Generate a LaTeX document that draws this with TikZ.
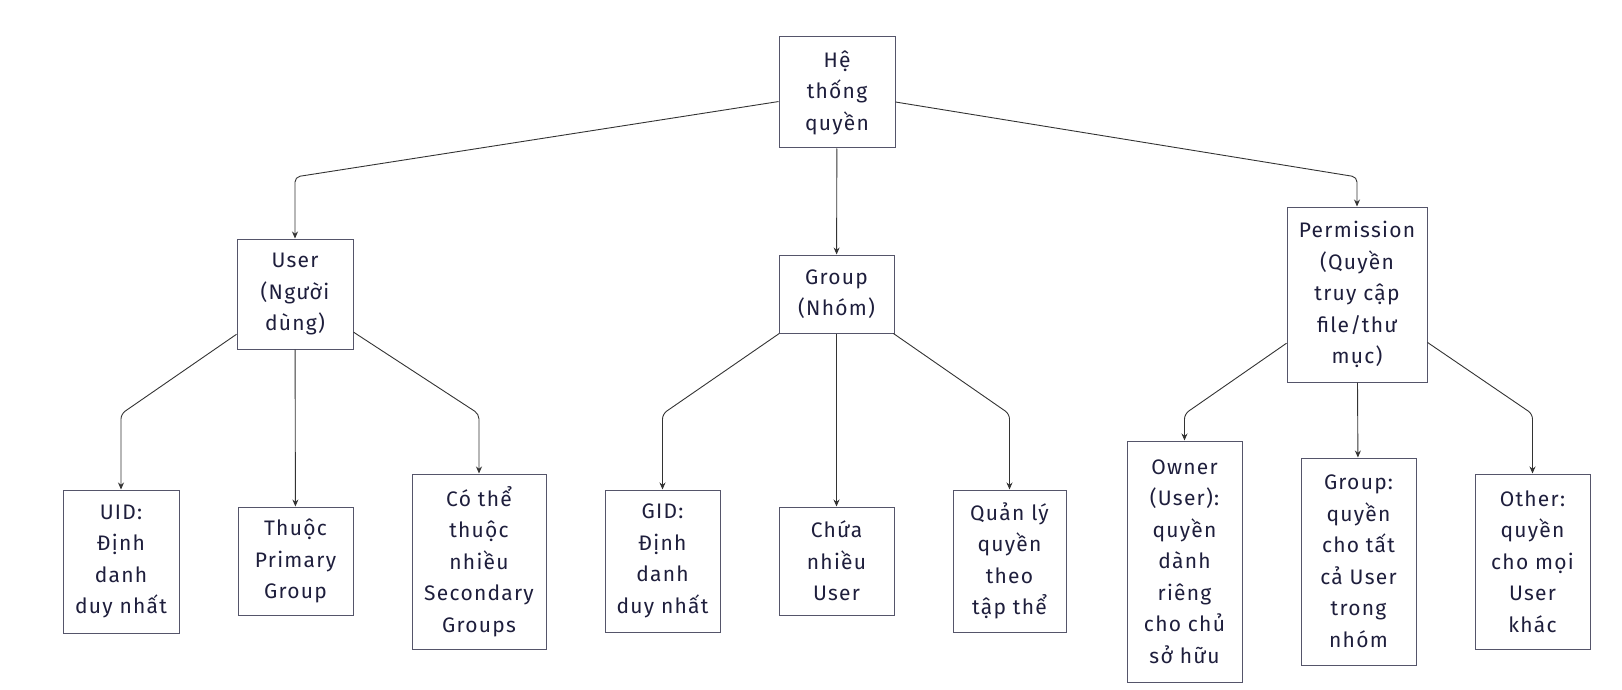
\documentclass[tikz,border=0pt]{standalone}
\usepackage{fontspec}
\setmainfont[LetterSpace=6]{Fira Sans}
\usetikzlibrary{arrows.meta}
\definecolor{txt}{HTML}{1E1E3C}
\definecolor{bord}{HTML}{55556A}
\definecolor{edge}{HTML}{333333}
\tikzset{
  box/.style={draw=bord, line width=1pt, fill=white, text=txt, align=center,
    inner sep=0pt, font=\fontsize{21pt}{31.5pt}\selectfont},
  conn/.style={draw=edge, line width=0.9pt, rounded corners=5pt,
    -{Stealth[length=7pt,width=6pt]}}
}
\begin{document}
\begin{tikzpicture}[x=1pt,y=-1pt]
\useasboundingbox (0,0) rectangle (1622,690);
\node[box, minimum width=116pt, minimum height=111pt] (root) at (837,92.5) {Hệ\\thống\\quyền};
\node[box, minimum width=116pt, minimum height=110pt] (user) at (295,294) {User\\(Người\\dùng)};
\node[box, minimum width=115pt, minimum height=78pt] (group) at (836.5,294) {Group\\(Nhóm)};
\node[box, minimum width=140pt, minimum height=175pt] (perm) at (1357,294.5) {Permission\\(Quyền\\truy cập\\file/thư\\mục)};
\node[box, minimum width=116pt, minimum height=143pt] (uid) at (121,561.5) {UID:\\Định\\danh\\duy nhất};
\node[box, minimum width=115pt, minimum height=108pt] (primary) at (295.5,561) {Thuộc\\Primary\\Group};
\node[box, minimum width=134pt, minimum height=175pt] (secondary) at (479,561.5) {Có thể\\thuộc\\nhiều\\Secondary\\Groups};
\node[box, minimum width=115pt, minimum height=142pt] (gid) at (662.5,561) {GID:\\Định\\danh\\duy nhất};
\node[box, minimum width=115pt, minimum height=108pt] (chua) at (836.5,561) {Chứa\\nhiều\\User};
\node[box, minimum width=113pt, minimum height=142pt] (quanly) at (1009.5,561) {Quản lý\\quyền\\theo\\tập thể};
\node[box, minimum width=115pt, minimum height=241pt] (owner) at (1184.5,561.5) {Owner\\(User):\\quyền\\dành\\riêng\\cho chủ\\sở hữu};
\node[box, minimum width=115pt, minimum height=207pt] (grp2) at (1358.5,561.5) {Group:\\quyền\\cho tất\\cả User\\trong\\nhóm};
\node[box, minimum width=115pt, minimum height=175pt] (other) at (1532.5,561.5) {Other:\\quyền\\cho mọi\\User\\khác};

\coordinate (c1) at (295,177);
\coordinate (c2) at (1357,177);
\coordinate (c3) at (121,414);
\coordinate (c4) at (479,414);
\coordinate (c5) at (662.5,414);
\coordinate (c6) at (1009.5,414);
\coordinate (c7) at (1184.5,414);
\coordinate (c8) at (1532.5,414);

\draw[conn] (root) -- (c1) -- (user);
\draw[conn] (root) -- (group);
\draw[conn] (root) -- (c2) -- (perm);
\draw[conn] (user) -- (c3) -- (uid);
\draw[conn] (user) -- (primary);
\draw[conn] (user) -- (c4) -- (secondary);
\draw[conn] (group) -- (c5) -- (gid);
\draw[conn] (group) -- (chua);
\draw[conn] (group) -- (c6) -- (quanly);
\draw[conn] (perm) -- (c7) -- (owner);
\draw[conn] (perm) -- (grp2);
\draw[conn] (perm) -- (c8) -- (other);
\end{tikzpicture}
\end{document}
